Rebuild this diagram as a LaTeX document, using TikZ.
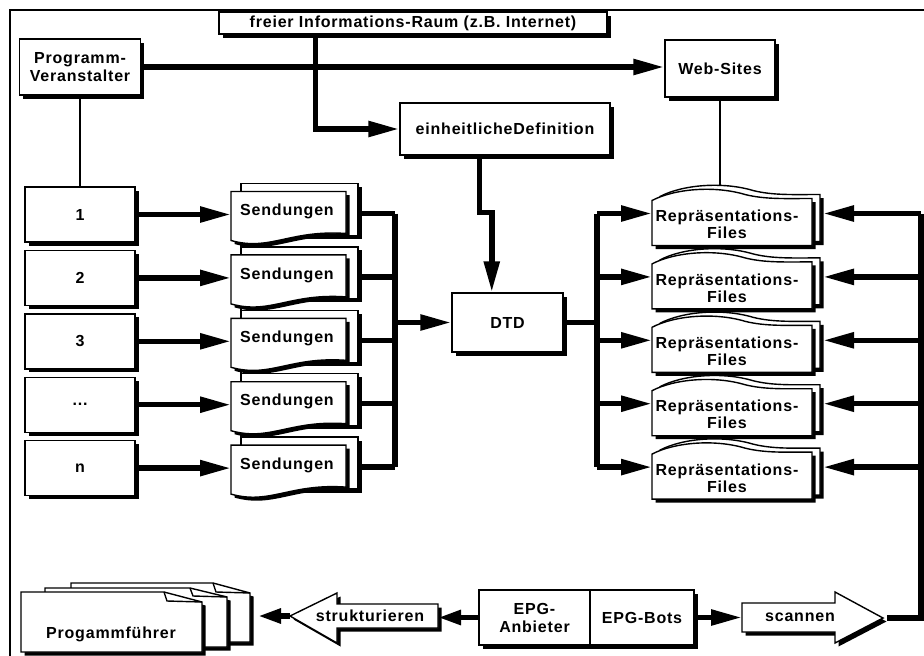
\documentclass[tikz,border=0pt]{standalone}
\usepackage{fontspec}
\setmainfont{Liberation Sans}[LetterSpace=5]
\usetikzlibrary{arrows.meta,shadows,calc}
\newcommand\dfont{\fontsize{16}{18}\selectfont\bfseries}
\newcommand\tdots{...}
\begin{document}
\begin{tikzpicture}[x=1pt,y=-1pt,line join=miter,
  shadowed/.style={drop shadow={shadow xshift=3.5pt,shadow yshift=-3.5pt,fill=black,opacity=1}},
  box/.style={draw,fill=white,line width=1.4pt,shadowed,inner sep=0pt,align=center,font=\dfont},
  doc/.style={draw,fill=white,line width=1.4pt,shadowed},
  lbl/.style={inner sep=0pt,align=center,font=\dfont},
  conn/.style={line width=5.5pt},
  thinline/.style={line width=1.4pt},
  tip/.style={-{Triangle[length=31pt,width=15pt]}},
  smalltip/.style={-{Triangle[length=23pt,width=14pt]}}]
\useasboundingbox (0,0) rectangle (924,656);
\fill[white] (0,0) rectangle (924,656);
\draw[line width=1.8pt] (10,656) -- (10,10) -- (924,10);

% top row
\node[box,minimum width=388pt,minimum height=22pt] (inet) at (413,23) {freier Informations-Raum (z.B. Internet)};
\node[box,minimum width=121pt,minimum height=56pt] (pv) at (80,67) {Programm-\\Veranstalter};
\node[box,minimum width=110pt,minimum height=57pt] (web) at (720,68.5) {Web-Sites};
\node[box,minimum width=210pt,minimum height=52pt] (def) at (505,129) {einheitlicheDefinition};
\node[box,minimum width=111pt,minimum height=59pt] (dtd) at (507.5,322.5) {DTD};

% left boxes
\foreach \i/\t/\r in {1/1/213.5,2/2/276.9,3/3/340.3,4/\tdots/403.7,5/n/467.1}
  \node[box,minimum width=110pt,minimum height=55pt] (b\i) at (80,{\r+1}) {\t};
\draw[thinline] (pv.south) -- (pv.south |- b1.north);

% Sendungen
\foreach \i/\r in {1/213.5,2/276.9,3/340.3,4/403.7,5/467.1}{
  \coordinate (sk\i) at (241,\r);
  \coordinate (si\i) at (231,\r);
  \coordinate (so\i) at (358,\r);
  \coordinate (bl\i) at (395,\r);
  \coordinate (br\i) at (597,\r);
  \coordinate (ri\i) at (652,\r);
  \coordinate (ro\i) at (823,\r);
  \coordinate (fb\i) at (921,\r);
}
\draw[thinline] (sk1) -- (sk5);
\foreach \i/\r in {1/213.5,2/276.9,3/340.3,4/403.7,5/467.1}{
  \path[doc] (241,{\r-30}) rectangle (358,{\r+22});
  \path[doc] (231,{\r-22}) -- (346,{\r-22}) -- (346,{\r+20})
     .. controls (290,{\r+16}) and (270,{\r+38}) .. (231,{\r+27}) -- cycle;
  \node[lbl] (s\i) at (287,{\r-2}) {Sendungen};
}

% Web-Sites link (under documents)
\coordinate (rtop) at (720,200);
\draw[thinline] (web.south) -- (web.south |- rtop);

% Repraesentations-Files
\foreach \i/\r in {1/213.5,2/276.9,3/340.3,4/403.7,5/467.1}{
  \path[doc,shift={(8,-4)}] (652,{\r-13}) .. controls (675,{\r-25}) and (715,{\r-28}) .. (745,{\r-19})
     .. controls (765,{\r-14}) and (785,{\r-15}) .. (812,{\r-15}) -- (812,{\r+32}) -- (652,{\r+32}) -- cycle;
  \path[doc] (652,{\r-13}) .. controls (675,{\r-25}) and (715,{\r-28}) .. (745,{\r-19})
     .. controls (765,{\r-14}) and (785,{\r-15}) .. (812,{\r-15}) -- (812,{\r+32}) -- (652,{\r+32}) -- cycle;
  \node[lbl,font=\fontsize{16}{17}\selectfont\bfseries] (rf\i) at (727,{\r+11}) {Repräsentations-\\Files};
}

% connectors, upper part
\draw[conn,tip] (pv.east) -- (pv.east -| web.west);
\draw[conn,tip] ($(inet.south west)!0.25!(inet.south east)$) |- (def.west);
\draw[conn,tip] ($(def.south west)!0.38!(def.south east)$) -- ++(0,57)
   -| ($(dtd.north west)!0.36!(dtd.north east)$);
\foreach \i in {1,...,5}{
  \draw[conn,tip] (b\i.east) -- (b\i.east -| si\i);
  \draw[conn] (so\i) -- (bl\i);
  \draw[conn,tip] (br\i) -- (ri\i);
  \draw[conn,tip] (fb\i) -- (ro\i);
}
\draw[conn] (bl1) -- (bl5);
\draw[conn,tip] (dtd.west -| bl1) -- (dtd.west);
\draw[conn] (dtd.east) -- (dtd.east -| br1);
\draw[conn] (br1) -- (br5);

% bottom row: Progammfuehrer pages
\foreach \L/\T/\R/\B/\F/\Fy in {71/583/250/642/213/593, 45/588/227/647/190/597, 21/592/202/652/164/602}{
  \path[doc] (\L,\T) -- (\F,\T) -- (\R,\Fy) -- (\R,\B) -- (\L,\B) -- cycle;
  \draw[thinline] (\F,\T) -- ({\F+3},{\Fy-1}) -- (\R,\Fy);
}
\node[lbl] (pf) at (111,634) {Progammführer};
\coordinate (pfR) at (258,616);

% strukturieren block arrow
\path[doc] (290,616) -- (337,593) -- (337,604) -- (438,604) -- (438,628) -- (337,628) -- (337,643) -- cycle;
\node[lbl] (strk) at (370,616) {strukturieren};
\coordinate (strktip) at (290,616);
\coordinate (strkR) at (438,616);

% EPG boxes
\node[box,minimum width=111pt,minimum height=55pt] (epga) at (534.5,617.5) {EPG-\\Anbieter};
\node[box,minimum width=104pt,minimum height=55pt] (epgb) at (642,617.5) {EPG-Bots};

% scannen block arrow
\path[doc] (742,603) -- (835,603) -- (835,592) -- (883,618) -- (835,643) -- (835,632) -- (742,632) -- cycle;
\node[lbl] (scan) at (800,617) {scannen};
\coordinate (scanL) at (742,617.5);
\coordinate (scanend) at (887,618);

% bottom connectors
\draw[conn,smalltip] (epga.west) -- (epga.west -| strkR);
\draw[conn,smalltip] (strktip) -- (pfR);
\draw[conn,tip] (epgb.east) -- (epgb.east -| scanL);
\draw[conn] (scanend) -| (fb1);
\end{tikzpicture}
\end{document}
